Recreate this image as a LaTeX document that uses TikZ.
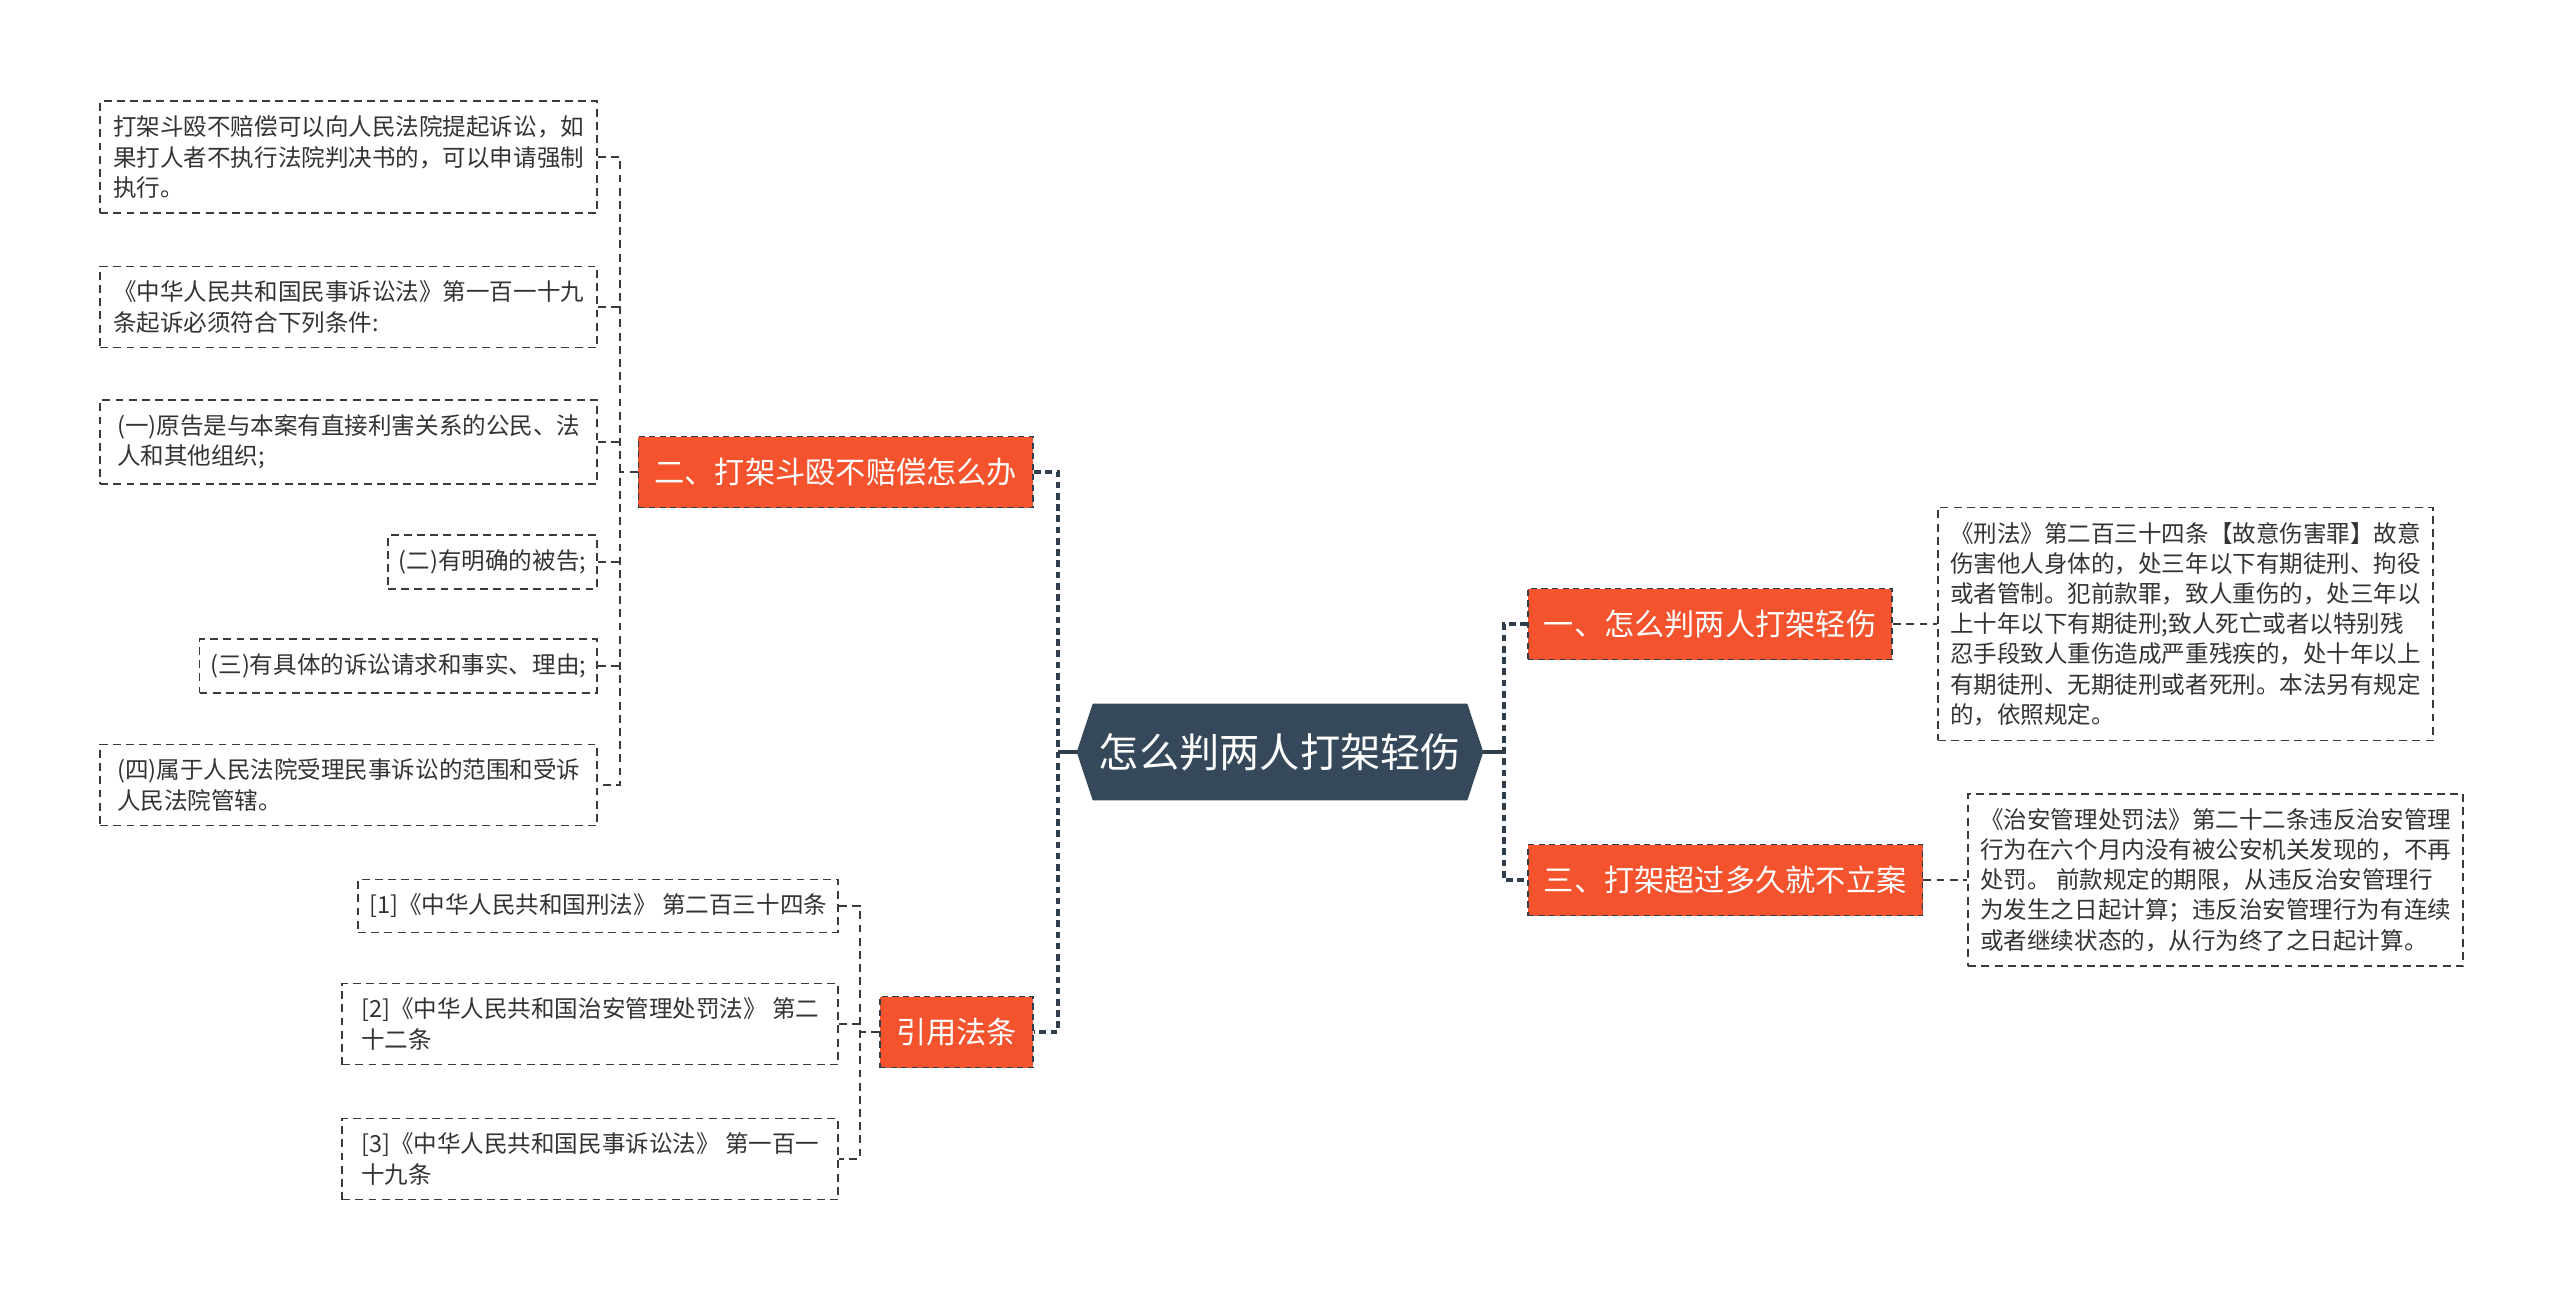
\documentclass[tikz,border=0pt]{standalone}
\usepackage{fontspec}
\setmainfont{Noto Sans CJK SC}
\usepackage{tikz}
\usetikzlibrary{positioning,calc,backgrounds}
\definecolor{rt}{HTML}{36495B}
\definecolor{br}{HTML}{F4532D}
\definecolor{ln}{HTML}{2F3E4C}
\definecolor{lf}{HTML}{3A3A3A}
\definecolor{tx}{HTML}{333333}
\tikzset{
  root/.style={minimum width=8.12cm, minimum height=1.92cm, inner sep=0pt,
    text=white, font=\fontsize{22.9pt}{27pt}\selectfont},
  branch/.style={fill=br, draw=ln, line width=1pt, dash pattern=on 3.5pt off 2.5pt,
    text=white, inner xsep=0.32cm, minimum height=1.42cm,
    font=\fontsize{17.2pt}{20pt}\selectfont},
  leaf/.style={draw=lf, line width=1pt, dash pattern=on 4.5pt off 3pt, text=tx,
    align=left, inner xsep=0.22cm, inner ysep=0.29cm,
    font=\fontsize{13.4pt}{17.2pt}\selectfont},
  trunk/.style={draw=ln, line width=2pt, dash pattern=on 3.8pt off 2.6pt},
  stem/.style={draw=ln, line width=1.8pt},
  twig/.style={draw=lf, line width=1.1pt, dash pattern=on 4.5pt off 3pt}
}
\begin{document}
\begin{tikzpicture}[x=0.02cm, y=-0.02cm]
  \useasboundingbox (0,0) rectangle (2560,1303);

  % centre
  \node[root] (root) at (1280,752) {怎么判两人打架轻伤};
  \begin{scope}[on background layer]
    \fill[rt] (root.west) -- ($(root.north west)+(16,0)$) -- ($(root.north east)+(-16,0)$)
      -- (root.east) -- ($(root.south east)+(-16,0)$) -- ($(root.south west)+(16,0)$) -- cycle;
  \end{scope}

  % branches
  \node[branch, anchor=west] (b1) at (1527,624) {一、怎么判两人打架轻伤};
  \node[branch, anchor=west] (b3) at (1527,880) {三、打架超过多久就不立案};
  \node[branch, anchor=east] (b2) at (1034,472) {二、打架斗殴不赔偿怎么办};
  \node[branch, anchor=east] (b4) at (1034,1032) {引用法条};

  % right leaves
  \node[leaf, right=0.88cm of b1, minimum width=9.9cm] (k1) {《刑法》第二百三十四条【故意伤害罪】故意\\伤害他人身体的，处三年以下有期徒刑、拘役\\或者管制。犯前款罪，致人重伤的，处三年以\\上十年以下有期徒刑;致人死亡或者以特别残\\忍手段致人重伤造成严重残疾的，处十年以上\\有期徒刑、无期徒刑或者死刑。本法另有规定\\的，依照规定。};
  \node[leaf, right=0.88cm of b3, minimum width=9.9cm] (k3) {《治安管理处罚法》第二十二条违反治安管理\\行为在六个月内没有被公安机关发现的，不再\\处罚。 前款规定的期限，从违反治安管理行\\为发生之日起计算；违反治安管理行为有连续\\或者继续状态的，从行为终了之日起计算。};

  % left leaves
  \node[leaf, anchor=east, minimum width=9.94cm] (l1) at (598,157) {打架斗殴不赔偿可以向人民法院提起诉讼，如\\果打人者不执行法院判决书的，可以申请强制\\执行。};
  \node[leaf, anchor=east, minimum width=9.94cm] (l2) at (598,307) {《中华人民共和国民事诉讼法》第一百一十九\\条起诉必须符合下列条件:};
  \node[leaf, anchor=east, minimum width=9.94cm] (l3) at (598,442) {(一)原告是与本案有直接利害关系的公民、法\\人和其他组织;};
  \node[leaf, anchor=east] (l4) at (598,562) {(二)有明确的被告;};
  \node[leaf, anchor=east] (l5) at (598,666) {(三)有具体的诉讼请求和事实、理由;};
  \node[leaf, anchor=east, minimum width=9.94cm] (l6) at (598,785) {(四)属于人民法院受理民事诉讼的范围和受诉\\人民法院管辖。};

  \node[leaf, anchor=east] (r1) at (839,906) {[1]《中华人民共和国刑法》 第二百三十四条};
  \node[leaf, anchor=east, minimum width=9.92cm] (r2) at (839,1024) {[2]《中华人民共和国治安管理处罚法》 第二\\十二条};
  \node[leaf, anchor=east, minimum width=9.92cm] (r3) at (839,1159) {[3]《中华人民共和国民事诉讼法》 第一百一\\十九条};

  % connectors
  \coordinate (jl) at (1058,752);
  \coordinate (jr) at (1504,752);
  \draw[stem] (root.west) -- (jl);
  \draw[stem] (root.east) -- (jr);
  \draw[trunk] (b2.east) -| (jl) |- (b4.east);
  \draw[trunk] (b1.west) -| (jr) |- (b3.west);

  \draw[twig] (b1.east) -- (k1.west);
  \draw[twig] (b3.east) -- (k3.west);

  \coordinate (j2) at (620,472);
  \draw[twig] (b2.west) -- (j2);
  \draw[twig] (l1.east) -| (j2) |- (l6.east);
  \foreach \n in {l2,l3,l4,l5}
    \draw[twig] (\n.east) -- (\n.east -| j2);

  \coordinate (j4) at (860,1032);
  \draw[twig] (b4.west) -- (j4);
  \draw[twig] (r1.east) -| (j4) |- (r3.east);
  \draw[twig] (r2.east) -- (r2.east -| j4);
\end{tikzpicture}
\end{document}
